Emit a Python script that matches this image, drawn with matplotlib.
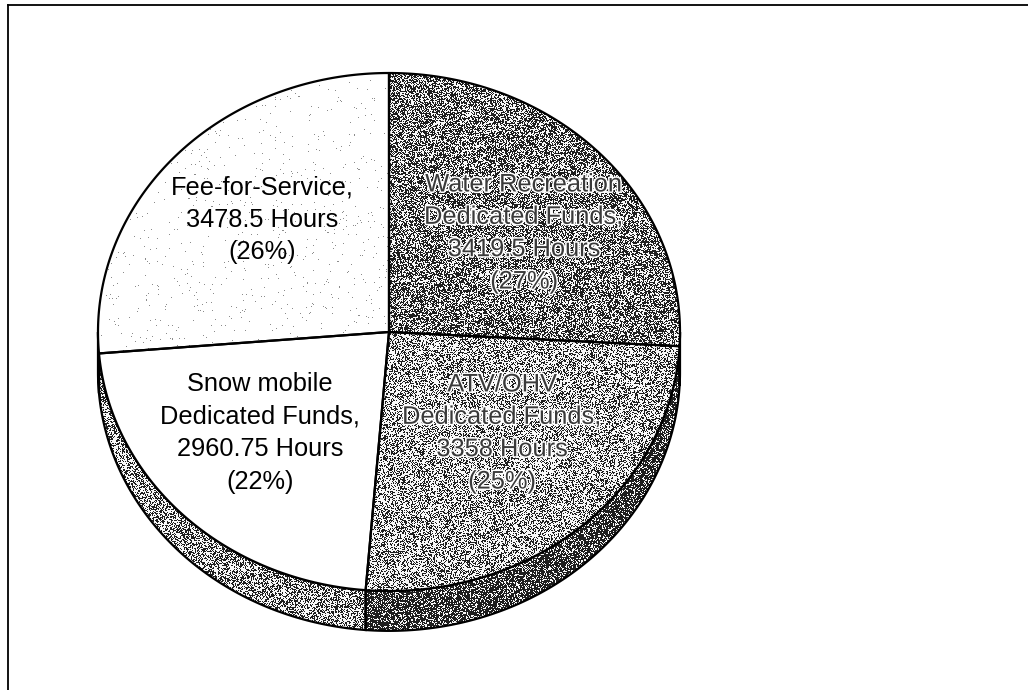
import numpy as np
import matplotlib
matplotlib.use("Agg")
import matplotlib.pyplot as plt
from matplotlib.patches import Polygon
from matplotlib.lines import Line2D
import matplotlib.patheffects as pe

# Hours of work by funding source
categories = ["Water Recreation\nDedicated Funds,", "ATV/OHV\nDedicated Funds,",
              "Snow mobile\nDedicated Funds,", "Fee-for-Service,"]
hours = [3419.5, 3358, 2960.75, 3478.5]
hour_labels = ["3419.5 Hours", "3358 Hours", "2960.75 Hours", "3478.5 Hours"]
pct_labels = ["(27%)", "(25%)", "(22%)", "(26%)"]

# Dither density of dark dots for each slice's top face and side wall
top_density = [0.55, 0.40, 0.0, 0.010]
side_density = [0.72, 0.72, 0.45, 0.45]

W, H, DPI = 1028, 690, 100
CX, CY = 389, 332          # pie centre in pixels from top-left
RX = 291.0                 # horizontal radius in pixels
SQUASH = 0.89              # vertical / horizontal radius of the tilted top
DEPTH = 0.137              # wall thickness relative to RX

fig = plt.figure(figsize=(W / DPI, H / DPI), dpi=DPI)
ax = fig.add_axes([0, 0, 1, 1])
x0, x1 = -CX / RX, (W - CX) / RX
y0, y1 = -(H - CY) / RX, CY / RX
ax.set_xlim(x0, x1)
ax.set_ylim(y0, y1)
ax.axis("off")

rng = np.random.default_rng(7)


def dither(density, patch, z, dot=0.12, paper=0.97):
    """Fill a patch with a screened grey made of dark and light dots."""
    if density <= 0:
        return
    field = rng.random((H, W)) < density
    img = np.where(field, dot, paper)
    im = ax.imshow(img, cmap="gray", vmin=0, vmax=1, extent=(x0, x1, y0, y1),
                   interpolation="nearest", zorder=z, aspect="auto")
    im.set_clip_path(patch)


def arc(a_from, a_to, n=200, drop=0.0):
    t = np.radians(np.linspace(a_from, a_to, n))
    return np.column_stack([np.cos(t), SQUASH * np.sin(t) - drop])


total = sum(hours)
angles = [90.0]
for v in hours:
    angles.append(angles[-1] - 360.0 * v / total)

# side walls on the front half (angles between -180 and 0)
for i in range(len(hours)):
    a_start, a_end = angles[i], angles[i + 1]
    hi = min(a_start, 0.0)
    lo = max(a_end, -180.0)
    if hi <= lo:
        continue
    top = arc(hi, lo)
    bottom = arc(lo, hi, drop=DEPTH)
    wall = Polygon(np.vstack([top, bottom]), closed=True, facecolor="white",
                   edgecolor="none", zorder=1)
    ax.add_patch(wall)
    dither(side_density[i], wall, 1.5)
    ax.add_patch(Polygon(np.vstack([top, bottom]), closed=True, facecolor="none",
                         edgecolor="black", lw=1.6, zorder=2))

# top faces
for i in range(len(hours)):
    pts = np.vstack([[0, 0], arc(angles[i], angles[i + 1])])
    face = Polygon(pts, closed=True, facecolor="white", edgecolor="none", zorder=3)
    ax.add_patch(face)
    sparse = top_density[i] < 0.1
    dither(top_density[i], face, 3.5, dot=0.55 if sparse else 0.12,
           paper=1.0 if sparse else 0.97)
    ax.add_patch(Polygon(pts, closed=True, facecolor="none", edgecolor="black",
                         lw=1.6, joinstyle="round", zorder=4))

# labels
label_pos = [(524, 233), (502, 433), (260, 433), (262, 220)]
dark = [True, True, False, False]
for i, (px, py) in enumerate(label_pos):
    txt = f"{categories[i]}\n{hour_labels[i]}\n{pct_labels[i]}"
    kw = dict(ha="center", va="center", fontsize=18.3, linespacing=1.44,
              family=["Liberation Sans", "DejaVu Sans"], zorder=6)
    if dark[i]:
        kw["color"] = "#3a3a3a"
        kw["path_effects"] = [pe.withStroke(linewidth=2.2, foreground="white")]
    else:
        kw["color"] = "black"
    ax.text((px - CX) / RX, (CY - py) / RX, txt, **kw)

# frame lines along the top and left of the sheet
fig.add_artist(Line2D([8 / W, 8 / W], [0, 1 - 5 / H], color="black", lw=1.3,
                      transform=fig.transFigure))
fig.add_artist(Line2D([8 / W, 1], [1 - 5 / H, 1 - 5 / H], color="black", lw=1.3,
                      transform=fig.transFigure))

fig.savefig("out.png", dpi=DPI)
